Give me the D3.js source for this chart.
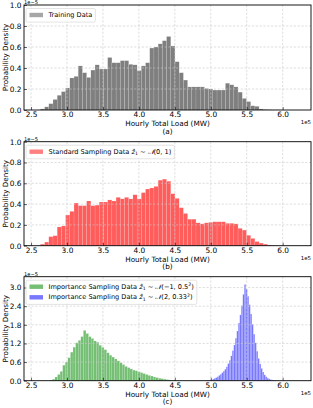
<!DOCTYPE html>
<html><head><meta charset="utf-8">
<script src="https://cdn.jsdelivr.net/npm/d3@7"></script>
<style>
html,body{margin:0;padding:0;background:#fff;}
svg{display:block;font-family:"DejaVu Sans",sans-serif;}
</style></head>
<body><svg id="c" width="313" height="408"></svg>
<script>
// ---------- data (x in 1e5 MW, density in 1e-5) ----------
const xTicks = [2.5, 3.0, 3.5, 4.0, 4.5, 5.0, 5.5, 6.0];
const yTicksAB = [0.0, 0.2, 0.4, 0.6, 0.8, 1.0];
const yTicksC = [0.0, 0.6, 1.2, 1.8, 2.4, 3.0];

const trainStart = 2.63, trainWidth = 0.0585;
const trainValues = [0.01,0.03,0.06,0.10,0.14,0.175,0.21,0.305,0.32,0.42,0.355,0.31,0.38,0.43,0.39,0.39,0.50,0.45,0.45,0.47,
  0.47,0.435,0.43,0.375,0.42,0.45,0.59,0.60,0.63,0.66,0.70,0.61,0.46,0.355,0.285,0.22,0.22,0.22,0.22,0.205,
  0.20,0.19,0.19,0.19,0.255,0.24,0.22,0.17,0.11,0.08,0.04,0.035,0.01,0.005,0.003,0.001,0.001,0.0005];

const stdStart = 2.63, stdWidth = 0.0585;
const stdValues = [0.015,0.035,0.087,0.096,0.18,0.19,0.295,0.33,0.41,0.385,0.385,0.43,0.385,0.39,0.42,0.42,0.44,0.43,0.465,0.45,
  0.465,0.45,0.49,0.45,0.51,0.545,0.555,0.57,0.63,0.64,0.62,0.50,0.455,0.365,0.31,0.255,0.255,0.22,0.21,0.22,
  0.225,0.23,0.23,0.23,0.215,0.215,0.21,0.167,0.15,0.10,0.07,0.04,0.025,0.015,0.005,0.002];

const isLowStart = 2.76, isLowWidth = 0.036;
const isLowValues = [0.02,0.05,0.12,0.20,0.30,0.50,0.60,0.74,0.92,1.08,1.22,1.30,1.42,1.62,1.52,1.42,1.36,1.28,1.24,1.14,
  1.07,1.00,0.90,0.82,0.76,0.70,0.64,0.58,0.52,0.46,0.42,0.38,0.34,0.32,0.29,0.26,0.23,0.20,0.17,0.15,
  0.12,0.10,0.08,0.065,0.05,0.035,0.025,0.015,0.01,0.005,0.003];

const isHighStart = 4.92, isHighWidth = 0.021;
const isHighValues = [0.005,0.01,0.015,0.02,0.035,0.05,0.08,0.10,0.13,0.17,0.21,0.26,0.31,0.37,0.45,0.55,0.66,0.80,0.97,1.15,
  1.37,1.60,1.86,2.12,2.42,2.78,3.10,2.95,2.72,2.45,2.15,1.82,1.50,1.22,0.95,0.72,0.54,0.40,0.28,0.19,
  0.13,0.09,0.06,0.04,0.025,0.015,0.01,0.005];

// ---------- layout ----------
const L = 24, R = 311;
const panels = [
  {top:5, bottom:110, ymax:1.0, yTicks:yTicksAB, caption:"(a)",
   series:[{start:trainStart,width:trainWidth,values:trainValues,color:"#7f7f7f"}],
   legend:[{color:"#a6a6a6", parts:[["Training Data"]]}]},
  {top:141.7, bottom:245.7, ymax:1.0, yTicks:yTicksAB, caption:"(b)",
   series:[{start:stdStart,width:stdWidth,values:stdValues,color:"#ff5c5c"}],
   legend:[{color:"#ff8080", parts:[["Standard Sampling Data "],["ẑ","it"],["1","sub"],[" ∼ "],["𝒩","cal"],["(0, 1)"]]}]},
  {top:276.7, bottom:380.7, ymax:3.35, yTicks:yTicksC, caption:"(c)",
   series:[{start:isLowStart,width:isLowWidth,values:isLowValues,color:"#74bf74"},
           {start:isHighStart,width:isHighWidth,values:isHighValues,color:"#7878ff"}],
   legend:[{color:"#74bf74", parts:[["Importance Sampling Data "],["ẑ","it"],["1","sub"],[" ∼ "],["𝒩","cal"],["(−1, 0.5"],["2","sup"],[")"]]},
           {color:"#7878ff", parts:[["Importance Sampling Data "],["ẑ","it"],["1","sub"],[" ∼ "],["𝒩","cal"],["(2, 0.33"],["2","sup"],[")"]]}]}
];

const svg = d3.select("#c");
const x = d3.scaleLinear().domain([2.402, 6.394]).range([L, R]);
const fmt = d3.format(".1f");

panels.forEach(p => {
  const y = d3.scaleLinear().domain([0, p.ymax]).range([p.bottom, p.top]);
  const g = svg.append("g");

  // bars
  p.series.forEach(s => {
    g.append("g").selectAll("rect").data(s.values).join("rect")
      .attr("x", (d,i) => x(s.start + i*s.width))
      .attr("width", (d,i) => x(s.start + (i+1)*s.width) - x(s.start + i*s.width))
      .attr("y", d => y(d))
      .attr("height", d => p.bottom - y(d))
      .attr("fill", s.color)
      .attr("stroke", "#ffffff").attr("stroke-opacity", 0.35).attr("stroke-width", 0.35);
  });

  // grid (drawn above bars)
  const grid = g.append("g").attr("stroke", "#c8c8c8").attr("stroke-width", 0.6)
     .attr("stroke-dasharray", "2.2,1.6").attr("fill","none");
  xTicks.forEach(t => grid.append("line").attr("x1", x(t)).attr("x2", x(t)).attr("y1", p.top).attr("y2", p.bottom));
  p.yTicks.forEach(t => { if (t > 0 && t < p.ymax - 1e-9) grid.append("line").attr("x1", L).attr("x2", R).attr("y1", y(t)).attr("y2", y(t)); });

  // axes
  const xa = g.append("g").attr("transform", `translate(0,${p.bottom})`)
    .call(d3.axisBottom(x).tickValues(xTicks).tickFormat(fmt).tickSizeInner(-3).tickSizeOuter(0).tickPadding(1.6));
  const ya = g.append("g").attr("transform", `translate(${L},0)`)
    .call(d3.axisLeft(y).tickValues(p.yTicks).tickFormat(fmt).tickSizeInner(-3).tickSizeOuter(0).tickPadding(2.5));
  [xa, ya].forEach(a => { a.select(".domain").remove(); a.selectAll("text").attr("font-size", 7.4).attr("fill","#000").attr("font-family","DejaVu Sans"); a.selectAll("line").attr("stroke","#000").attr("stroke-width",0.6); });

  // frame
  g.append("rect").attr("x", L).attr("y", p.top).attr("width", R-L).attr("height", p.bottom-p.top)
    .attr("fill","none").attr("stroke","#000").attr("stroke-width",0.9);

  // labels
  g.append("text").attr("x", (L+R)/2).attr("y", p.bottom+13.4).attr("text-anchor","middle")
    .attr("dominant-baseline","central").attr("font-size",7.3).text("Hourly Total Load (MW)");
  g.append("text").attr("x", (L+R)/2).attr("y", p.bottom+21).attr("text-anchor","middle")
    .attr("dominant-baseline","central").attr("font-size",7.3).text(p.caption);
  g.append("text").attr("x", R).attr("y", p.bottom+12.3).attr("text-anchor","end")
    .attr("dominant-baseline","central").attr("font-size",5.4).text("1e5");
  g.append("text").attr("x", L).attr("y", p.top-0.9).attr("text-anchor","start")
    .attr("font-size",5.2).text("1e−5");
  g.append("text").attr("transform", `translate(5,${(p.top+p.bottom)/2}) rotate(-90)`)
    .attr("text-anchor","middle").attr("dominant-baseline","central").attr("font-size",7.2).text("Probability Density");

  // legend
  const rowH = 10.6;
  const lg = g.append("g");
  const box = lg.append("rect").attr("x", L+2).attr("y", p.top+3.5).attr("rx",1.5)
    .attr("fill","#fff").attr("fill-opacity",0.85).attr("stroke","#d0d0d0").attr("stroke-width",0.6);
  let maxW = 0;
  p.legend.forEach((it, i) => {
    const cy = p.top + 10 + i*rowH;
    lg.append("rect").attr("x", L+5.5).attr("y", cy-2.2).attr("width", 13.5).attr("height", 4.4).attr("fill", it.color);
    const t = lg.append("text").attr("x", L+24.5).attr("y", cy).attr("dominant-baseline","central").attr("font-size",6.6);
    it.parts.forEach(([s, kind]) => {
      const ts = t.append("tspan").text(s);
      if (kind === "it") ts.attr("font-style","italic");
      if (kind === "cal") ts.attr("font-style","italic").attr("font-family","DejaVu Serif");
      if (kind === "sub") ts.attr("font-size",4.6).attr("dy","1.5");
      if (kind === "sup") ts.attr("font-size",4.6).attr("dy","-2.5");
    });
    const tspans = t.selectAll("tspan").nodes();
    for (let k = 1; k < tspans.length; k++) {
      const prev = it.parts[k-1][1];
      if (prev === "sub") d3.select(tspans[k]).attr("dy","-1.5");
      if (prev === "sup") d3.select(tspans[k]).attr("dy","2.5");
    }
    maxW = Math.max(maxW, t.node().getComputedTextLength());
  });
  box.attr("width", 24.5 - 2 + maxW + 3).attr("height", p.legend.length*rowH + 3);
});
</script></body></html>
